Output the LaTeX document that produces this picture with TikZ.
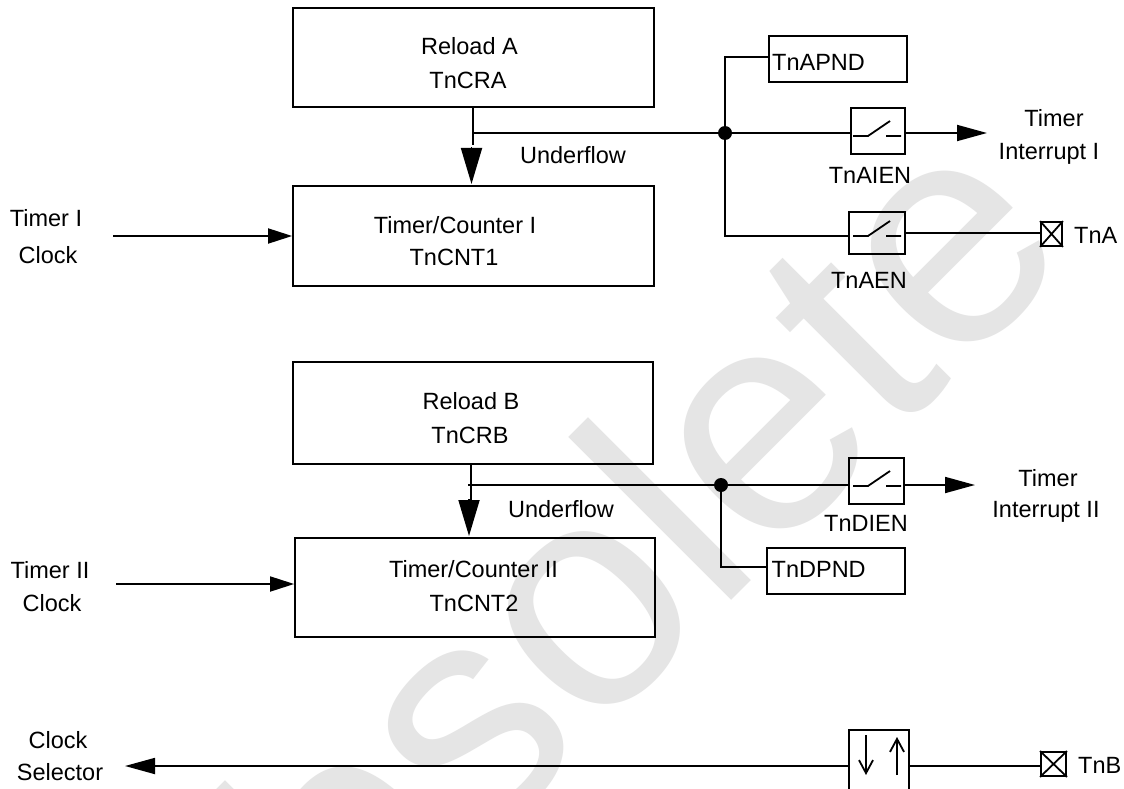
\documentclass[tikz,border=0pt]{standalone}
\usepackage{fontspec}
\setmainfont{Liberation Sans}
\usetikzlibrary{arrows.meta}
\definecolor{wm}{HTML}{E5E5E5}
\tikzset{
  x=1pt,y=-1pt,
  box/.style={draw,line width=1.8pt,rectangle,inner sep=0pt},
  lab/.style={inner sep=0pt,anchor=base,font=\fontsize{23.5}{28}\selectfont},
  labw/.style={lab,anchor=base west},
  wire/.style={line width=1.8pt},
  bigv/.style={wire,-{Triangle[length=36pt,width=21pt]}},
  bigh/.style={wire,-{Triangle[length=30pt,width=16pt]}},
  smallh/.style={wire,-{Triangle[length=24pt,width=15pt]}},
  small/.style={wire,-{Straight Barb[length=13pt,width=14pt]}},
  dot/.style={circle,fill=black,inner sep=0pt,minimum size=14pt},
  pin/.style={draw,line width=1.8pt,inner sep=0pt},
}
\newcommand{\swglyph}[2]{\draw[wire] (#1,#2)--(#1+15,#2)--(#1+37,#2-15) (#1+33,#2)--(#1+48,#2);}
\newcommand{\xbox}[1]{\draw[wire] (#1.north west)--(#1.south east) (#1.north east)--(#1.south west);}
\newcommand{\bx}[5]{\node[box,minimum width=#4 pt-#2 pt,minimum height=#5 pt-#3 pt] (#1) at ({(#2+#4)/2},{(#3+#5)/2}) {};}
\begin{document}
\begin{tikzpicture}
\useasboundingbox (0,0) rectangle (1124,789);
\clip (0,0) rectangle (1124,789);
\fill[white] (0,0) rectangle (1124,789);
\node[rotate=45,text=wm,inner sep=0pt,anchor=base,font=\fontsize{318}{318}\selectfont] (wmark) at (629,703) {Obsolete};

\bx{relA}{293}{8}{654}{107}
\bx{cntA}{293}{186}{654}{286}
\bx{relB}{293}{362}{653}{464}
\bx{cntB}{295}{538}{655}{637}
\bx{pndA}{769}{36}{907}{82}
\bx{pndD}{767}{548}{905}{594}
\bx{swI}{851}{108}{905}{154}
\bx{swA}{849}{212}{905}{254}
\bx{swD}{849}{458}{904}{504}
\bx{buf}{849}{730}{909}{800}
\swglyph{853}{136}
\swglyph{853}{236}
\swglyph{853}{486}
\draw[small] (866,735)--(866,775);
\draw[small] (897,775)--(897,737);

\node[pin,minimum width=21pt,minimum height=24pt] (pinA) at (1051.5,234) {};
\node[pin,minimum width=25pt,minimum height=24pt] (pinB) at (1053.5,764) {};
\xbox{pinA}
\xbox{pinB}

\node[dot] (jA) at (725,133) {};
\node[dot] (jD) at (721,485) {};
\coordinate (tA) at (473,133);
\coordinate (tD) at (468,485);
\coordinate (iA) at (987,133);
\coordinate (iD) at (975,485);
\coordinate (ckA) at (113,236);
\coordinate (ckB) at (116,584);
\coordinate (cs) at (125,766);

\draw[wire] (tA)--(jA)--(swI.west|-jA);
\draw[bigh] (swI.east|-jA)--(iA);
\draw[wire] (jA)--(725,57)--(pndA.west|-0,57);
\draw[wire] (jA)--(725,236)--(swA.west|-0,236);
\draw[wire] (swA.east|-0,233)--(pinA.west|-0,233);
\draw[wire] (473,107)--(473,145);
\draw[bigv] (471.5,147)--(471.5,184);
\draw[smallh] (ckA)--(cntA.west|-ckA);
\draw[wire] (tD)--(jD)--(swD.west|-jD);
\draw[bigh] (swD.east|-jD)--(iD);
\draw[wire] (jD)--(721,567)--(pndD.west|-0,567);
\draw[wire] (471,464)--(471,500);
\draw[bigv] (469,499)--(469,536);
\draw[smallh] (ckB)--(cntB.west|-ckB);
\draw[bigh] (buf.west|-cs)--(cs);
\draw[wire] (buf.east|-cs)--(pinB.west|-cs);

\node[lab] (t1) at (469.5,55) {Reload A};
\node[lab] (t2) at (468,89) {TnCRA};
\node[lab] (t3) at (455,233) {Timer/Counter I};
\node[lab] (t4) at (454,265) {TnCNT1};
\node[lab] (t5) at (471,409) {Reload B};
\node[lab] (t6) at (470,443) {TnCRB};
\node[lab] (t7) at (473.5,577) {Timer/Counter II};
\node[lab] (t8) at (474,611) {TnCNT2};
\node[labw] (pndAt) at (772,71) {TnAPND};
\node[labw] (pndDt) at (771.5,577) {TnDPND};
\node[lab] (l1a) at (1054,127) {Timer};
\node[lab] (l1b) at (1049,159) {Interrupt I};
\node[lab] (l2) at (870,183) {TnAIEN};
\node[lab] (l3) at (869,288) {TnAEN};
\node[labw] (l4) at (1074,243) {TnA};
\node[lab] (l5) at (573,164) {Underflow};
\node[lab] (l6) at (561,517) {Underflow};
\node[lab] (l7) at (866,531) {TnDIEN};
\node[lab] (l8a) at (1048,486) {Timer};
\node[lab] (l8b) at (1046,517) {Interrupt II};
\node[lab] (l9a) at (46,226) {Timer I};
\node[lab] (l9b) at (48,263) {Clock};
\node[lab] (l10a) at (50,578) {Timer II};
\node[lab] (l10b) at (52,611) {Clock};
\node[lab] (l11a) at (58,748) {Clock};
\node[lab] (l11b) at (60,780) {Selector};
\node[labw] (l12) at (1078,773) {TnB};
\end{tikzpicture}
\end{document}
